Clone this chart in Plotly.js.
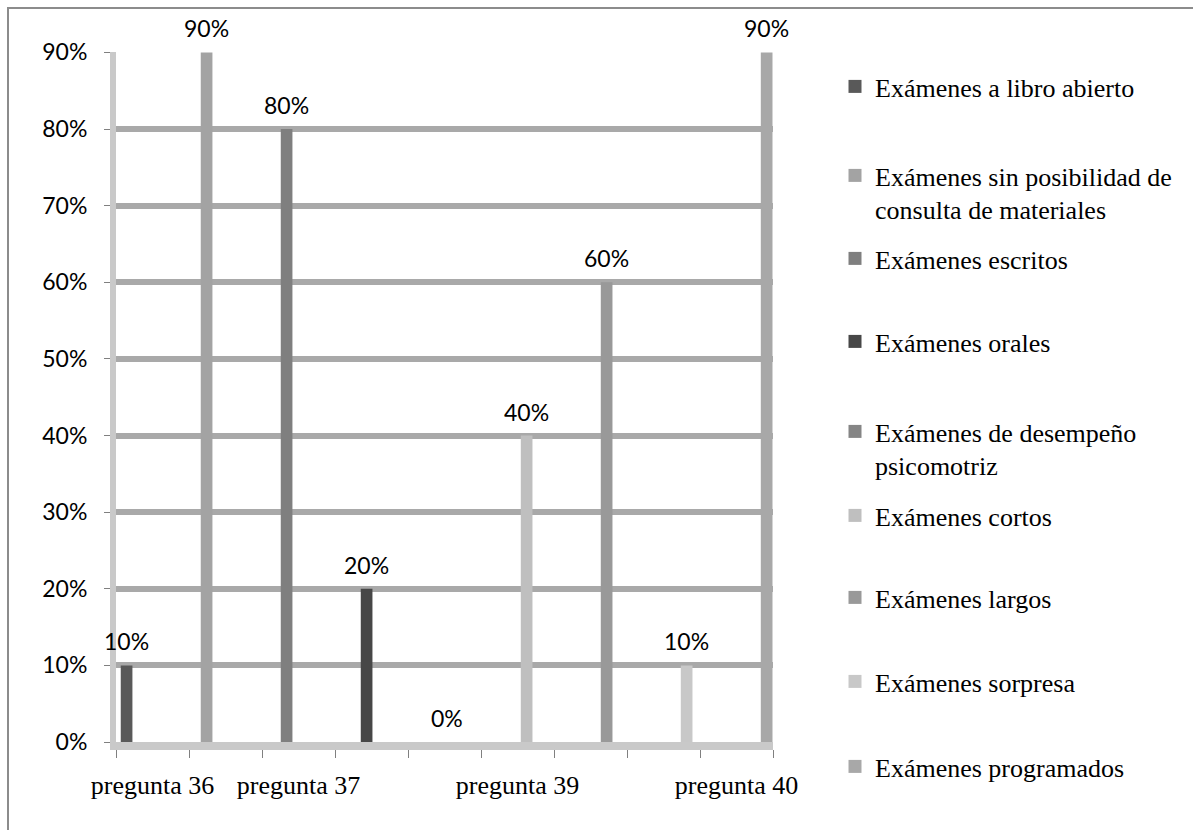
<!DOCTYPE html>
<html>
<head>
<meta charset="utf-8">
<script src="https://cdn.plot.ly/plotly-3.0.1.min.js"></script>
<style>
  html, body { margin: 0; padding: 0; background: #ffffff; }
  #chart { width: 1193px; height: 830px; }
</style>
</head>
<body>
<div id="chart"></div>
<script>
// ---------------- data ----------------
const slotIds = ["s1", "s2", "s3", "s4", "s5", "s6", "s7", "s8", "s9"];
const slotLabels = ["pregunta 36", "", "pregunta 37", "", "", "pregunta 39", "", "", "pregunta 40"];
const seriesNames = [
  "Exámenes a libro abierto",
  "Exámenes sin posibilidad de<br>consulta de materiales",
  "Exámenes escritos",
  "Exámenes orales",
  "Exámenes de desempeño<br>psicomotriz",
  "Exámenes cortos",
  "Exámenes largos",
  "Exámenes sorpresa",
  "Exámenes programados"
];
const seriesValues = [0.10, 0.90, 0.80, 0.20, 0.00, 0.40, 0.60, 0.10, 0.90];

// ---------------- styles ----------------
const seriesColors = ["#595959", "#a3a3a3", "#7f7f7f", "#474747", "#858585", "#bfbfbf", "#999999", "#c8c8c8", "#a8a8a8"];
const barShift = [-0.355, -0.259, -0.163, -0.067, 0.029, 0.125, 0.221, 0.317, 0.413]; // depth shift inside slot
const barW = 0.16;
const legendLinePx = [88, 177, 260, 343, 433, 517, 599, 683, 768];

const W = 1193, H = 830, L = 116, R = 773, T = 52, B = 742;
const px2x = p => (p - L) / (R - L);
const px2y = p => (B - p) / (B - T);

const sansFont = "Lato, 'Open Sans', sans-serif";
const serifFont = "'Liberation Serif', 'Times New Roman', serif";

const legendKey = i => (i === 0 ? "legend" : "legend" + (i + 1));

const barTraces = seriesNames.map((name, i) => ({
  type: "bar",
  x: [slotIds[i]],
  y: [seriesValues[i]],
  name: name,
  width: barW,
  offset: barShift[i] - barW / 2,
  marker: { color: seriesColors[i], line: { width: 0 } },
  showlegend: false,
  hoverinfo: "skip"
}));

// legend entries (square swatches)
const legendTraces = seriesNames.map((name, i) => ({
  type: "scatter",
  mode: "markers",
  x: [null],
  y: [null],
  name: name,
  marker: { symbol: "square", size: 13, color: seriesColors[i], line: { width: 0 } },
  legend: legendKey(i),
  showlegend: true,
  hoverinfo: "skip"
}));

const annotations = seriesValues.map((v, i) => ({
  x: i + barShift[i],
  y: v,
  xref: "x",
  yref: "y",
  text: Math.round(v * 100) + "%",
  showarrow: false,
  yanchor: "middle",
  yshift: 24,
  font: { family: sansFont, size: 23, color: "#000000" }
}));

const layout = {
  width: W,
  height: H,
  margin: { l: L, r: W - R, t: T, b: H - B, pad: 0 },
  paper_bgcolor: "#ffffff",
  plot_bgcolor: "#ffffff",
  barmode: "overlay",
  showlegend: true,
  xaxis: {
    type: "category",
    categoryorder: "array",
    categoryarray: slotIds,
    tickmode: "array",
    tickvals: slotIds,
    ticktext: slotLabels,
    tickson: "boundaries",
    tickangle: 0,
    range: [-0.5, 8.5],
    ticks: "outside",
    ticklen: 8,
    tickwidth: 1,
    tickcolor: "#808080",
    showgrid: false,
    showline: true,
    linecolor: "#c9c9c9",
    linewidth: 8,
    zeroline: false,
    ticklabelstandoff: 13,
    tickfont: { family: serifFont, size: 26, color: "#000000" }
  },
  yaxis: {
    range: [0, 0.9005],
    tick0: 0,
    dtick: 0.1,
    tickformat: ".0%",
    ticks: "outside",
    ticklen: 6,
    tickwidth: 1,
    tickcolor: "#808080",
    showgrid: true,
    gridcolor: "#a9a9a9",
    gridwidth: 6,
    showline: true,
    linecolor: "#c9c9c9",
    linewidth: 6,
    zeroline: false,
    ticklabelstandoff: 12,
    tickfont: { family: sansFont, size: 23, color: "#000000" }
  },
  annotations: annotations,
  shapes: [{
    type: "rect", xref: "paper", yref: "paper",
    x0: px2x(8), x1: px2x(1240), y0: px2y(880), y1: px2y(8),
    line: { color: "#8c8c8c", width: 2 },
    fillcolor: "rgba(0,0,0,0)",
    layer: "below"
  }]
};

legendLinePx.forEach((p, i) => {
  layout[legendKey(i)] = {
    x: px2x(835),
    xanchor: "left",
    y: px2y(p - 25),
    yanchor: "top",
    valign: "top",
    bgcolor: "rgba(0,0,0,0)",
    borderwidth: 0,
    font: { family: serifFont, size: 26, color: "#000000" }
  };
});

Plotly.newPlot("chart", barTraces.concat(legendTraces), layout, { staticPlot: true, displayModeBar: false });
</script>
</body>
</html>
